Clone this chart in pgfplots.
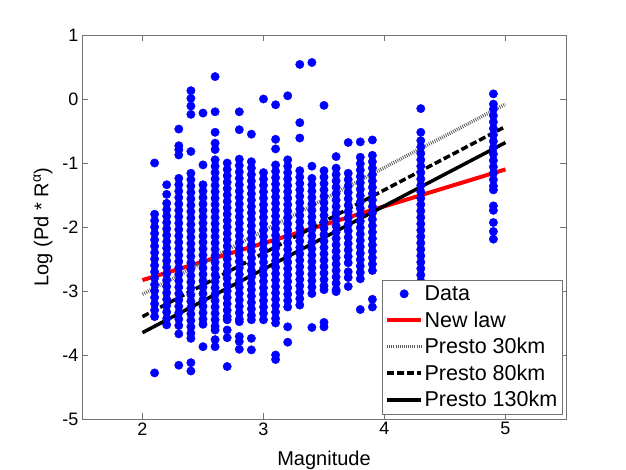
\documentclass[border=0pt]{standalone}
\usepackage{fontspec}
\setmainfont{Liberation Sans}
\usepackage{pgfplots}
\pgfplotsset{compat=1.18}
\begin{document}
\begin{tikzpicture}
\path[use as bounding box] (0,0) rectangle (626pt,470pt);
\begin{axis}[at={(82pt,51pt)}, anchor=south west, scale only axis,
  width=484pt, height=384pt,
  xmin=1.5, xmax=5.5, ymin=-5, ymax=1,
  xtick={2,3,4,5}, ytick={-5,-4,-3,-2,-1,0,1},
  tick pos=both, tick align=inside, major tick length=6pt,
  axis line style={black!55, line width=0.7pt},
  tick style={black!55, line width=0.6pt},
  /pgf/number format/assume math mode=true,
  tick label style={font=\fontsize{18}{20}\selectfont},
  label style={font=\fontsize{20}{22}\selectfont},
  xlabel={Magnitude}, ylabel={Log (Pd * R\textsuperscript{α})},
  xlabel style={yshift=-9pt}, ylabel style={yshift=3pt},
  legend image code/.code={\draw[mark repeat=2,mark phase=2,#1] plot coordinates {(0pt,0pt) (17pt,0pt) (34pt,0pt)};},
  legend style={at={(1,0)}, anchor=south east, xshift=-4pt, yshift=5pt,
    font=\fontsize{21.5}{23}\selectfont, draw=black!55, fill=white,
    inner xsep=3pt, inner ysep=3.5pt, row sep=5.5pt, cells={anchor=west},
    nodes={inner xsep=1.5pt}},
]
\addplot[only marks, mark=*, mark size=4.2pt, color=blue, mark options={draw=blue, fill=blue}] coordinates {
(2.1,-1.0)(2.1,-1.8)(2.1,-1.9)(2.1,-2.0)(2.1,-2.1)(2.1,-2.2)(2.1,-2.3)(2.1,-2.4)(2.1,-2.5)(2.1,-2.6)(2.1,-2.7)(2.1,-2.8)(2.1,-2.9)(2.1,-3.0)(2.1,-3.1)(2.1,-3.2)(2.1,-3.3)(2.1,-3.4)(2.1,-4.28)
(2.2,-1.34)(2.2,-1.49)(2.2,-1.63)(2.2,-1.73)(2.2,-1.83)(2.2,-1.93)(2.2,-2.03)(2.2,-2.13)(2.2,-2.23)(2.2,-2.33)(2.2,-2.43)(2.2,-2.53)(2.2,-2.63)(2.2,-2.73)(2.2,-2.83)(2.2,-2.93)(2.2,-3.03)(2.2,-3.13)(2.2,-3.23)(2.2,-3.33)(2.2,-3.43)(2.2,-3.53)
(2.3,-0.47)(2.3,-0.73)(2.3,-0.79)(2.3,-0.875)(2.3,-1.24)(2.3,-1.34)(2.3,-1.44)(2.3,-1.54)(2.3,-1.64)(2.3,-1.74)(2.3,-1.84)(2.3,-1.94)(2.3,-2.04)(2.3,-2.14)(2.3,-2.24)(2.3,-2.34)(2.3,-2.44)(2.3,-2.54)(2.3,-2.64)(2.3,-2.74)(2.3,-2.84)(2.3,-2.94)(2.3,-3.04)(2.3,-3.14)(2.3,-3.24)(2.3,-3.34)(2.3,-3.44)(2.3,-3.54)(2.3,-3.67)(2.3,-4.16)
(2.4,0.13)(2.4,0.01)(2.4,-0.11)(2.4,-0.24)(2.4,-0.82)(2.4,-1.16)(2.4,-1.26)(2.4,-1.36)(2.4,-1.46)(2.4,-1.56)(2.4,-1.66)(2.4,-1.76)(2.4,-1.86)(2.4,-1.96)(2.4,-2.06)(2.4,-2.16)(2.4,-2.26)(2.4,-2.36)(2.4,-2.46)(2.4,-2.56)(2.4,-2.66)(2.4,-2.76)(2.4,-2.86)(2.4,-2.96)(2.4,-3.06)(2.4,-3.16)(2.4,-3.26)(2.4,-3.36)(2.4,-3.46)(2.4,-3.56)(2.4,-3.66)(2.4,-3.74)(2.4,-4.12)(2.4,-4.25)
(2.5,-0.22)(2.5,-1.03)(2.5,-1.34)(2.5,-1.44)(2.5,-1.54)(2.5,-1.64)(2.5,-1.74)(2.5,-1.84)(2.5,-1.94)(2.5,-2.04)(2.5,-2.14)(2.5,-2.24)(2.5,-2.34)(2.5,-2.44)(2.5,-2.54)(2.5,-2.64)(2.5,-2.74)(2.5,-2.84)(2.5,-2.94)(2.5,-3.04)(2.5,-3.14)(2.5,-3.24)(2.5,-3.34)(2.5,-3.44)(2.5,-3.52)(2.5,-3.87)
(2.6,0.35)(2.6,-0.2)(2.6,-0.52)(2.6,-0.69)(2.6,-0.79)(2.6,-0.95)(2.6,-1.05)(2.6,-1.15)(2.6,-1.25)(2.6,-1.35)(2.6,-1.45)(2.6,-1.55)(2.6,-1.65)(2.6,-1.75)(2.6,-1.85)(2.6,-1.95)(2.6,-2.05)(2.6,-2.15)(2.6,-2.25)(2.6,-2.35)(2.6,-2.45)(2.6,-2.55)(2.6,-2.65)(2.6,-2.75)(2.6,-2.85)(2.6,-2.95)(2.6,-3.05)(2.6,-3.15)(2.6,-3.25)(2.6,-3.35)(2.6,-3.45)(2.6,-3.55)(2.6,-3.61)(2.6,-3.76)(2.6,-3.87)
(2.7,-1.0)(2.7,-1.1)(2.7,-1.2)(2.7,-1.3)(2.7,-1.4)(2.7,-1.5)(2.7,-1.6)(2.7,-1.7)(2.7,-1.8)(2.7,-1.9)(2.7,-2.0)(2.7,-2.1)(2.7,-2.2)(2.7,-2.3)(2.7,-2.4)(2.7,-2.5)(2.7,-2.6)(2.7,-2.7)(2.7,-2.8)(2.7,-2.9)(2.7,-3.0)(2.7,-3.1)(2.7,-3.2)(2.7,-3.3)(2.7,-3.4)(2.7,-3.45)(2.7,-3.61)(2.7,-3.73)(2.7,-4.18)
(2.8,-0.2)(2.8,-0.48)(2.8,-0.94)(2.8,-1.04)(2.8,-1.14)(2.8,-1.24)(2.8,-1.34)(2.8,-1.44)(2.8,-1.54)(2.8,-1.64)(2.8,-1.74)(2.8,-1.84)(2.8,-1.94)(2.8,-2.04)(2.8,-2.14)(2.8,-2.24)(2.8,-2.34)(2.8,-2.44)(2.8,-2.54)(2.8,-2.64)(2.8,-2.74)(2.8,-2.84)(2.8,-2.94)(2.8,-3.04)(2.8,-3.14)(2.8,-3.24)(2.8,-3.34)(2.8,-3.44)(2.8,-3.48)(2.8,-3.71)(2.8,-3.79)(2.8,-3.91)
(2.9,-0.55)(2.9,-0.98)(2.9,-1.08)(2.9,-1.18)(2.9,-1.28)(2.9,-1.38)(2.9,-1.48)(2.9,-1.58)(2.9,-1.68)(2.9,-1.78)(2.9,-1.88)(2.9,-1.98)(2.9,-2.08)(2.9,-2.18)(2.9,-2.28)(2.9,-2.38)(2.9,-2.48)(2.9,-2.58)(2.9,-2.68)(2.9,-2.78)(2.9,-2.88)(2.9,-2.98)(2.9,-3.08)(2.9,-3.18)(2.9,-3.28)(2.9,-3.38)(2.9,-3.45)(2.9,-3.74)(2.9,-3.92)
(3.0,0.0)(3.0,-1.15)(3.0,-1.25)(3.0,-1.35)(3.0,-1.45)(3.0,-1.55)(3.0,-1.65)(3.0,-1.75)(3.0,-1.85)(3.0,-1.95)(3.0,-2.05)(3.0,-2.15)(3.0,-2.25)(3.0,-2.35)(3.0,-2.45)(3.0,-2.55)(3.0,-2.65)(3.0,-2.75)(3.0,-2.85)(3.0,-2.95)(3.0,-3.05)(3.0,-3.15)(3.0,-3.25)(3.0,-3.35)(3.0,-3.45)
(3.1,-0.09)(3.1,-0.63)(3.1,-0.78)(3.1,-1.03)(3.1,-1.13)(3.1,-1.23)(3.1,-1.33)(3.1,-1.43)(3.1,-1.53)(3.1,-1.63)(3.1,-1.73)(3.1,-1.83)(3.1,-1.93)(3.1,-2.03)(3.1,-2.13)(3.1,-2.23)(3.1,-2.33)(3.1,-2.43)(3.1,-2.53)(3.1,-2.63)(3.1,-2.73)(3.1,-2.83)(3.1,-2.93)(3.1,-3.03)(3.1,-3.13)(3.1,-3.23)(3.1,-3.33)(3.1,-3.43)(3.1,-3.5)(3.1,-4.0)(3.1,-4.07)
(3.2,0.05)(3.2,-0.95)(3.2,-1.05)(3.2,-1.15)(3.2,-1.25)(3.2,-1.35)(3.2,-1.45)(3.2,-1.55)(3.2,-1.65)(3.2,-1.75)(3.2,-1.85)(3.2,-1.95)(3.2,-2.05)(3.2,-2.15)(3.2,-2.25)(3.2,-2.35)(3.2,-2.45)(3.2,-2.55)(3.2,-2.65)(3.2,-2.75)(3.2,-2.85)(3.2,-2.95)(3.2,-3.05)(3.2,-3.15)(3.2,-3.25)(3.2,-3.56)(3.2,-3.8)
(3.3,0.54)(3.3,-0.37)(3.3,-0.61)(3.3,-1.12)(3.3,-1.22)(3.3,-1.32)(3.3,-1.42)(3.3,-1.52)(3.3,-1.62)(3.3,-1.72)(3.3,-1.82)(3.3,-1.92)(3.3,-2.02)(3.3,-2.12)(3.3,-2.22)(3.3,-2.32)(3.3,-2.42)(3.3,-2.52)(3.3,-2.62)(3.3,-2.72)(3.3,-2.82)(3.3,-2.92)(3.3,-3.02)(3.3,-3.12)(3.3,-3.22)
(3.4,0.57)(3.4,-1.05)(3.4,-1.24)(3.4,-1.34)(3.4,-1.44)(3.4,-1.54)(3.4,-1.64)(3.4,-1.74)(3.4,-1.84)(3.4,-1.94)(3.4,-2.04)(3.4,-2.14)(3.4,-2.24)(3.4,-2.34)(3.4,-2.44)(3.4,-2.54)(3.4,-2.64)(3.4,-2.74)(3.4,-2.84)(3.4,-2.94)(3.4,-3.04)(3.4,-3.57)
(3.5,-0.1)(3.5,-1.12)(3.5,-1.22)(3.5,-1.32)(3.5,-1.42)(3.5,-1.52)(3.5,-1.62)(3.5,-1.72)(3.5,-1.82)(3.5,-1.92)(3.5,-2.02)(3.5,-2.12)(3.5,-2.22)(3.5,-2.32)(3.5,-2.42)(3.5,-2.52)(3.5,-2.62)(3.5,-2.72)(3.5,-2.82)(3.5,-2.92)(3.5,-2.98)(3.5,-3.49)(3.5,-3.56)
(3.6,-0.9)(3.6,-1.08)(3.6,-1.18)(3.6,-1.28)(3.6,-1.38)(3.6,-1.48)(3.6,-1.58)(3.6,-1.68)(3.6,-1.78)(3.6,-1.88)(3.6,-1.98)(3.6,-2.08)(3.6,-2.18)(3.6,-2.28)(3.6,-2.38)(3.6,-2.48)(3.6,-2.58)(3.6,-2.68)(3.6,-2.78)(3.6,-2.88)(3.6,-2.98)(3.6,-3.01)
(3.7,-0.68)(3.7,-1.16)(3.7,-1.26)(3.7,-1.36)(3.7,-1.46)(3.7,-1.56)(3.7,-1.66)(3.7,-1.76)(3.7,-1.86)(3.7,-1.96)(3.7,-2.06)(3.7,-2.16)(3.7,-2.26)(3.7,-2.36)(3.7,-2.46)(3.7,-2.56)(3.7,-2.7)(3.7,-2.79)(3.7,-2.93)
(3.8,-0.67)(3.8,-0.91)(3.8,-1.01)(3.8,-1.11)(3.8,-1.21)(3.8,-1.31)(3.8,-1.41)(3.8,-1.51)(3.8,-1.61)(3.8,-1.71)(3.8,-1.81)(3.8,-1.91)(3.8,-2.01)(3.8,-2.11)(3.8,-2.21)(3.8,-2.31)(3.8,-2.41)(3.8,-2.51)(3.8,-2.61)(3.8,-2.71)(3.8,-2.81)(3.8,-3.29)
(3.9,-0.64)(3.9,-0.88)(3.9,-0.98)(3.9,-1.08)(3.9,-1.18)(3.9,-1.28)(3.9,-1.38)(3.9,-1.48)(3.9,-1.58)(3.9,-1.68)(3.9,-1.78)(3.9,-1.88)(3.9,-1.98)(3.9,-2.08)(3.9,-2.18)(3.9,-2.28)(3.9,-2.38)(3.9,-2.48)(3.9,-2.58)(3.9,-2.68)(3.9,-3.13)(3.9,-3.25)
(4.3,-0.15)(4.3,-0.52)(4.3,-0.65)(4.3,-0.75)(4.3,-0.85)(4.3,-0.95)(4.3,-1.05)(4.3,-1.15)(4.3,-1.25)(4.3,-1.35)(4.3,-1.45)(4.3,-1.55)(4.3,-1.65)(4.3,-1.75)(4.3,-1.85)(4.3,-1.95)(4.3,-2.05)(4.3,-2.15)(4.3,-2.25)(4.3,-2.35)(4.3,-2.45)(4.3,-2.55)(4.3,-2.65)(4.3,-2.75)(4.3,-2.85)(4.3,-2.95)(4.3,-3.05)(4.3,-3.15)(4.3,-3.25)(4.3,-3.35)
(4.9,0.08)(4.9,-0.08)(4.9,-0.16)(4.9,-0.26)(4.9,-0.36)(4.9,-0.46)(4.9,-0.56)(4.9,-0.66)(4.9,-0.76)(4.9,-0.86)(4.9,-0.96)(4.9,-1.06)(4.9,-1.16)(4.9,-1.26)(4.9,-1.36)(4.9,-1.42)(4.9,-1.67)(4.9,-1.74)(4.9,-1.93)(4.9,-2.07)(4.9,-2.19)
};
\addlegendentry{Data}
\addplot[red, line width=4pt] coordinates {(2,-2.83) (5,-1.1)};
\addlegendentry{New law}
\addplot[black!65, line width=3.5pt, dash pattern=on 0.8pt off 1.3pt] coordinates {(2,-3.05) (5,-0.08)};
\addlegendentry{Presto 30km}
\addplot[black, line width=3.5pt, dash pattern=on 7pt off 3pt] coordinates {(2,-3.4) (5,-0.43)};
\addlegendentry{Presto 80km}
\addplot[black, line width=3.5pt] coordinates {(2,-3.65) (5,-0.68)};
\addlegendentry{Presto 130km}
\end{axis}
\end{tikzpicture}
\end{document}
